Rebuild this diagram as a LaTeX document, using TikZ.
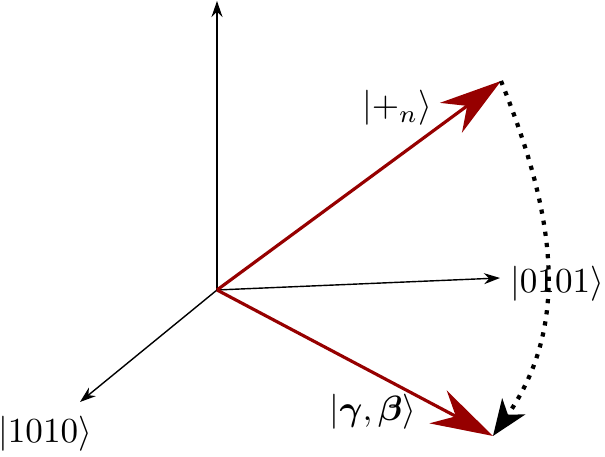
\documentclass[tikz,border=0pt]{standalone}
\usepackage{amsmath}
\usetikzlibrary{arrows.meta}
\definecolor{vecred}{RGB}{150,0,0}
\tikzset{
  axis/.style={thin, -{Stealth[length=1.6mm,width=1.1mm]}},
  statevec/.style={vecred, line width=0.9pt, -{Stealth[length=6.2mm,width=3.7mm,inset=2mm]}},
  evolve/.style={dotted, line width=1.2pt, -{Stealth[length=3.6mm,width=2.8mm,inset=1mm]}}
}
\begin{document}
\begin{tikzpicture}
        \useasboundingbox (0,0) rectangle (6.05,4.57);
        \coordinate (o) at (2.17,1.67);
        \coordinate (zend) at (2.17,4.56);
        \coordinate (yend) at (5.00,1.79);
        \coordinate (xend) at (0.80,0.55);
        \coordinate (plustip) at (5.01,3.76);
        \coordinate (gbtip) at (4.93,0.21);
        \draw[axis] (o)--(zend);
        \draw[axis] (o)--(yend);
        \draw[axis] (o)--(xend);
        \node (k0101) at (5.57,1.73) {$|0101\rangle$};
        \node (k1010) at (0.45,0.23) {$|1010\rangle$};
        \node (kplus) at (3.97,3.49) {$|+_n\rangle$};
        \node (kgb) at (3.73,0.45) {$|\boldsymbol{\gamma},\boldsymbol{\beta}\rangle$};
        \draw[statevec] (o)--(plustip);
        \draw[statevec] (o)--(gbtip);
        \draw[evolve] (plustip) to[out=-68,in=55] (gbtip);
    \end{tikzpicture}
\end{document}
